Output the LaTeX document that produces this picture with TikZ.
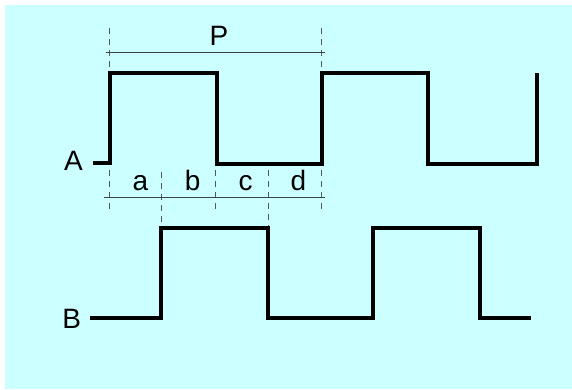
\documentclass[tikz,border=0pt]{standalone}
\usepackage{fontspec}
\setmainfont{Liberation Sans}
\definecolor{bgcyan}{RGB}{204,255,255}
\definecolor{guide}{RGB}{80,90,90}
\definecolor{dimline}{RGB}{60,70,70}
\tikzset{
  wave/.style={line width=4pt, line join=miter, line cap=butt, black},
  guideline/.style={guide, line width=1pt, dash pattern=on 6pt off 5pt},
  dimension/.style={dimline, line width=1pt},
  lbl/.style={anchor=base, inner sep=0pt, font=\fontsize{28}{30}\selectfont}
}
\begin{document}
\begin{tikzpicture}[x=1pt,y=-1pt]
\useasboundingbox (0,0) rectangle (572,389);
\fill[white] (0,0) rectangle (572,389);
\fill[bgcyan] (5,5) rectangle (572,389);

% guide lines (dashed)
\coordinate (g1t) at (109.5,28);  \coordinate (g1m) at (109.5,67);
\coordinate (g5t) at (321.5,28);  \coordinate (g5m) at (321.5,67);
\draw[guideline] (g1t) -- (g1m);
\draw[guideline] (g5t) -- (g5m);
\coordinate (l1a) at (109.5,170); \coordinate (l1b) at (109.5,213);
\coordinate (l2a) at (161,172);   \coordinate (l2b) at (161,222);
\coordinate (l3a) at (215,170);   \coordinate (l3b) at (215,213);
\coordinate (l4a) at (268,170);   \coordinate (l4b) at (268,227);
\coordinate (l5a) at (321.5,170); \coordinate (l5b) at (321.5,213);
\draw[guideline] (l1a) -- (l1b);
\draw[guideline] (l2a) -- (l2b);
\draw[guideline] (l3a) -- (l3b);
\draw[guideline] (l4a) -- (l4b);
\draw[guideline] (l5a) -- (l5b);

% dimension lines
\coordinate (pL) at (106,52.3); \coordinate (pR) at (325,52.3);
\draw[dimension] (pL) -- (pR);
\coordinate (qL) at (104,197.3); \coordinate (qR) at (325,197.3);
\draw[dimension] (qL) -- (qR);

% waveform A
\draw[wave] (93,162.5) -- (110,162.5) -- (110,73) -- (216.5,73) -- (216.5,163.5)
  -- (321.5,163.5) -- (321.5,73) -- (427.5,73) -- (427.5,164) -- (537,164) -- (537,73);

% waveform B
\draw[wave] (90,317.5) -- (161,317.5) -- (161,228) -- (268,228) -- (268,317.5)
  -- (373,317.5) -- (373,227.5) -- (480,227.5) -- (480,317.5) -- (531,317.5);

% labels
\node[lbl] (P) at (219,45) {P};
\node[lbl] (A) at (73.5,170.7) {A};
\node[lbl] (B) at (71.7,328.3) {B};
\node[lbl] (la) at (140.3,190) {a};
\node[lbl] (lb) at (192.7,190) {b};
\node[lbl] (lc) at (245.7,190) {c};
\node[lbl] (ld) at (298.3,190) {d};
\end{tikzpicture}
\end{document}
